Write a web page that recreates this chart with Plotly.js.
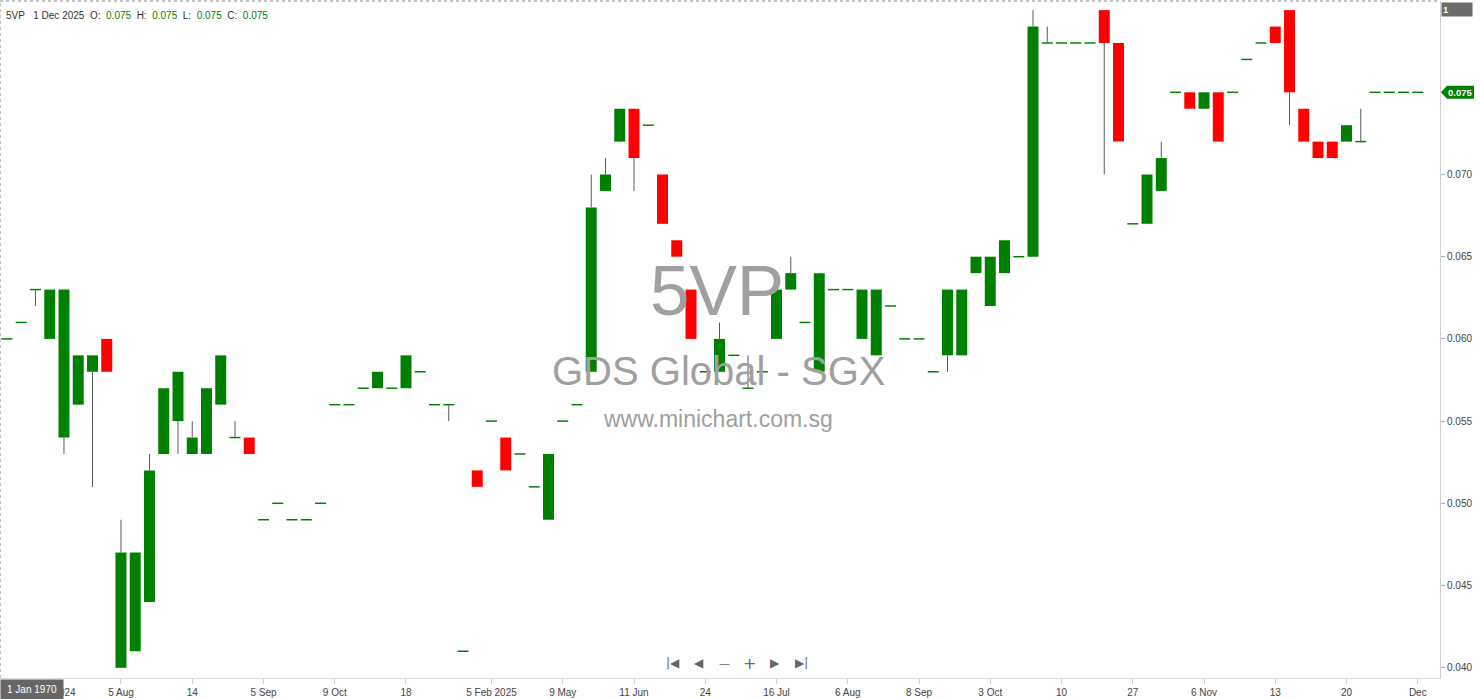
<!DOCTYPE html>
<html><head><meta charset="utf-8">
<script src="https://cdn.plot.ly/plotly-3.0.1.min.js"></script>
<style>html,body{margin:0;padding:0;background:#fff;overflow:hidden;} #chart{width:1480px;height:699px;}</style>
</head><body><div id="chart"></div>
<script>
// ---- data (price in SGD), one candle per trading session shown ----
const openP  = [0.060,0.061,0.063,0.060,0.054,0.056,0.058,0.060,0.040,0.041,
                0.044,0.053,0.055,0.053,0.053,0.056,0.054,0.054,0.049,0.050,
                0.049,0.049,0.050,0.056,0.056,0.057,0.057,0.057,0.057,0.058,
                0.056,0.056,0.041,0.052,0.055,0.054,0.053,0.051,0.049,0.055,
                0.056,0.058,0.069,0.072,0.074,0.073,0.070,0.066,0.063,0.058,
                0.058,0.059,0.057,0.058,0.060,0.063,0.061,0.058,0.063,0.063,
                0.060,0.059,0.062,0.060,0.060,0.058,0.059,0.059,0.064,0.062,
                0.064,0.065,0.065,0.078,0.078,0.078,0.078,0.080,0.078,0.067,
                0.067,0.069,0.075,0.075,0.074,0.075,0.075,0.077,0.078,0.079,
                0.080,0.074,0.072,0.072,0.072,0.072,0.075,0.075,0.075,0.075];
const highP  = [0.060,0.061,0.063,0.063,0.063,0.059,0.059,0.060,0.049,0.047,
                0.053,0.057,0.058,0.055,0.057,0.059,0.055,0.054,0.049,0.050,
                0.049,0.049,0.050,0.056,0.056,0.057,0.058,0.057,0.059,0.058,
                0.056,0.056,0.041,0.052,0.055,0.054,0.053,0.051,0.053,0.055,
                0.056,0.070,0.071,0.074,0.074,0.073,0.070,0.066,0.063,0.058,
                0.061,0.059,0.059,0.058,0.063,0.065,0.061,0.064,0.063,0.063,
                0.063,0.063,0.062,0.060,0.060,0.058,0.063,0.063,0.065,0.065,
                0.066,0.065,0.080,0.079,0.078,0.078,0.078,0.080,0.078,0.067,
                0.070,0.072,0.075,0.075,0.075,0.075,0.075,0.077,0.078,0.079,
                0.080,0.074,0.072,0.072,0.073,0.074,0.075,0.075,0.075,0.075];
const lowP   = [0.060,0.061,0.062,0.060,0.053,0.056,0.051,0.058,0.040,0.041,
                0.044,0.053,0.053,0.053,0.053,0.056,0.054,0.053,0.049,0.050,
                0.049,0.049,0.050,0.056,0.056,0.057,0.057,0.057,0.057,0.058,
                0.056,0.055,0.041,0.051,0.055,0.052,0.053,0.051,0.049,0.055,
                0.056,0.058,0.069,0.072,0.069,0.073,0.067,0.065,0.060,0.058,
                0.058,0.059,0.057,0.058,0.060,0.063,0.061,0.058,0.063,0.063,
                0.060,0.059,0.062,0.060,0.060,0.058,0.058,0.059,0.064,0.062,
                0.064,0.065,0.065,0.078,0.078,0.078,0.078,0.070,0.072,0.067,
                0.067,0.069,0.075,0.074,0.074,0.072,0.075,0.077,0.078,0.078,
                0.073,0.072,0.071,0.071,0.072,0.072,0.075,0.075,0.075,0.075];
const closeP = [0.060,0.061,0.063,0.063,0.063,0.059,0.059,0.058,0.047,0.047,
                0.052,0.057,0.058,0.054,0.057,0.059,0.054,0.053,0.049,0.050,
                0.049,0.049,0.050,0.056,0.056,0.057,0.058,0.057,0.059,0.058,
                0.056,0.056,0.041,0.051,0.055,0.052,0.053,0.051,0.053,0.055,
                0.056,0.068,0.070,0.074,0.071,0.073,0.067,0.065,0.060,0.058,
                0.060,0.059,0.057,0.058,0.063,0.064,0.061,0.064,0.063,0.063,
                0.063,0.063,0.062,0.060,0.060,0.058,0.063,0.063,0.065,0.065,
                0.066,0.065,0.079,0.078,0.078,0.078,0.078,0.078,0.072,0.067,
                0.070,0.071,0.075,0.074,0.075,0.072,0.075,0.077,0.078,0.078,
                0.075,0.072,0.071,0.071,0.073,0.072,0.075,0.075,0.075,0.075];
const tickIdx  = [3,8,13,18,23,28,34,39,44,49,54,59,64,69,74,79,84,89,94,99];
const tickText = ['24 Jul 2024','5 Aug','14','5 Sep','9 Oct','18','5 Feb 2025','9 May','11 Jun','24',
                  '16 Jul','6 Aug','8 Sep','3 Oct','10','27','6 Nov','13','20','Dec'];
const priceTicks = [0.040,0.045,0.050,0.055,0.060,0.065,0.070,0.075];
const symbol = '5VP', company = 'GDS Global - SGX', site = 'www.minichart.com.sg';
const lastDate = '1 Dec 2025';

// ---- build traces ----
const GREEN = '#008000', RED = '#ff0000';
const n = closeP.length;
const idx = closeP.map((_, i) => i);
const minBody = 0.00009;
const bodyBase = [], bodyH = [], bodyCol = [];
const wx = [], wy = [];
for (let i = 0; i < n; i++) {
  const top = Math.max(openP[i], closeP[i]), bot = Math.min(openP[i], closeP[i]);
  const h = top - bot;
  if (h < 1e-9) { bodyBase.push(bot - minBody / 2); bodyH.push(minBody); }
  else { bodyBase.push(bot); bodyH.push(h); }
  bodyCol.push(closeP[i] >= openP[i] ? GREEN : RED);
  if (highP[i] > top + 1e-9) { wx.push(i, i, null); wy.push(top, highP[i], null); }
  if (lowP[i] < bot - 1e-9) { wx.push(i, i, null); wy.push(lowP[i], bot, null); }
}

const wicks = {type: 'scatter', mode: 'lines', x: wx, y: wy,
  line: {color: '#5a5a5a', width: 1}, hoverinfo: 'skip', showlegend: false};
const bodies = {type: 'bar', x: idx, y: bodyH, base: bodyBase, width: 0.77,
  marker: {color: bodyCol, line: {width: 0}}, hoverinfo: 'skip', showlegend: false};

const lastClose = closeP[n - 1];
const wm = '#a0a0a0';
const sansF = 'Liberation Sans, Arial, sans-serif';
const navF = {family: 'DejaVu Sans', size: 12, color: '#666'};
const layout = {
  width: 1480, height: 699,
  margin: {l: 0, r: 40, t: 1, b: 21},
  paper_bgcolor: '#ffffff', plot_bgcolor: '#ffffff',
  showlegend: false, hovermode: false,
  xaxis: {range: [-0.49, 100.56], tickmode: 'array', tickvals: tickIdx, ticktext: tickText,
    showgrid: false, zeroline: false, showline: true, linecolor: '#dcdcdc', linewidth: 1,
    ticks: 'outside', ticklen: 5, tickcolor: '#cfcfcf', tickfont: {family: sansF, size: 10, color: '#444'}, fixedrange: true},
  yaxis: {side: 'right', range: [0.039373, 0.080554], tickmode: 'array', tickvals: priceTicks,
    tickformat: '.3f', showgrid: false, zeroline: false, showline: true, linecolor: '#d0d0d0', linewidth: 1,
    ticks: 'outside', ticklen: 4, tickcolor: '#aaa', tickfont: {family: sansF, size: 10, color: '#444'}, fixedrange: true},
  shapes: [
    {type: 'line', xref: 'paper', yref: 'paper', x0: 0, x1: 1, y0: 1, y1: 1, line: {color: '#888', width: 1, dash: 'dot'}},
    {type: 'line', xref: 'paper', yref: 'paper', x0: 0, x1: 0, y0: 0, y1: 1, line: {color: '#888', width: 1, dash: 'dot'}},
    {type: 'path', xref: 'paper', xsizemode: 'pixel', xanchor: 1, yref: 'y', ysizemode: 'pixel', yanchor: lastClose,
     path: 'M 1 0 L 7 6.5 L 34 6.5 L 34 -6.5 L 7 -6.5 Z', fillcolor: GREEN, line: {width: 0}}
  ],
  annotations: [
    {xref: 'paper', yref: 'paper', x: 0, y: 1, xanchor: 'left', yanchor: 'top', xshift: 4, yshift: -7, showarrow: false,
     font: {family: sansF, size: 10, color: '#333'},
     text: symbol + '&nbsp;&nbsp;&nbsp;' + lastDate + '&nbsp;&nbsp;O:&nbsp;&nbsp;<span style="color:#008000">' + openP[n-1].toFixed(3) +
       '</span>&nbsp;&nbsp;H:&nbsp;&nbsp;<span style="color:#008000">' + highP[n-1].toFixed(3) +
       '</span>&nbsp;&nbsp;L:&nbsp;&nbsp;<span style="color:#008000">' + lowP[n-1].toFixed(3) +
       '</span>&nbsp;&nbsp;C:&nbsp;&nbsp;<span style="color:#008000">' + closeP[n-1].toFixed(3) + '</span>'},
    {xref: 'x', yref: 'y', x: 49.8, y: 0.06296, text: symbol, showarrow: false, font: {family: sansF, size: 71, color: wm}},
    {xref: 'x', yref: 'y', x: 49.9, y: 0.05806, text: company, showarrow: false, font: {family: sansF, size: 40, color: wm}},
    {xref: 'x', yref: 'y', x: 49.9, y: 0.05511, text: site, showarrow: false, font: {family: sansF, size: 23, color: wm}},
    {xref: 'paper', yref: 'y', x: 1, y: lastClose, xanchor: 'left', xshift: 6, showarrow: false,
     text: '<b>' + lastClose.toFixed(3) + '</b>', font: {family: sansF, size: 9.5, color: '#fff'}},
    {xref: 'paper', yref: 'paper', x: 1, y: 1, xanchor: 'left', yanchor: 'top', xshift: 1, yshift: -1, showarrow: false,
     text: '<b>1</b>', align: 'left', width: 28, height: 11, bgcolor: '#6b6b6b', borderpad: 1,
     font: {family: sansF, size: 9.5, color: '#fff'}},
    {xref: 'paper', yref: 'paper', x: 0, y: 0, xanchor: 'left', yanchor: 'top', yshift: -1, showarrow: false,
     text: '1 Jan 1970', width: 58, height: 15, bgcolor: '#666666', borderpad: 2,
     font: {family: sansF, size: 10, color: '#fff'}},
    {xref: 'paper', yref: 'paper', x: 673/1440, y: 0, yanchor: 'middle', yshift: 15, showarrow: false, text: '|◀', font: navF},
    {xref: 'paper', yref: 'paper', x: 699/1440, y: 0, yanchor: 'middle', yshift: 15, showarrow: false, text: '◀', font: navF},
    {xref: 'paper', yref: 'paper', x: 724/1440, y: 0, yanchor: 'middle', yshift: 15, showarrow: false, text: '—', font: {family: 'DejaVu Sans', size: 11, color: '#666'}},
    {xref: 'paper', yref: 'paper', x: 749/1440, y: 0, yanchor: 'middle', yshift: 15, showarrow: false, text: '+', font: {family: 'DejaVu Sans', size: 16, color: '#666'}},
    {xref: 'paper', yref: 'paper', x: 775/1440, y: 0, yanchor: 'middle', yshift: 15, showarrow: false, text: '▶', font: navF},
    {xref: 'paper', yref: 'paper', x: 801/1440, y: 0, yanchor: 'middle', yshift: 15, showarrow: false, text: '▶|', font: navF}
  ]
};
Plotly.newPlot('chart', [wicks, bodies], layout, {displayModeBar: false, staticPlot: true});
</script></body></html>
